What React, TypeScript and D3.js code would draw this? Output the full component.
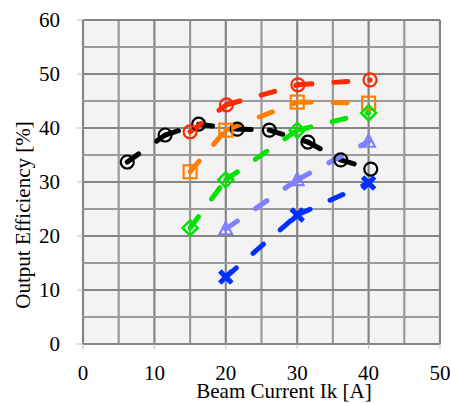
import React from "react";
import * as d3 from "d3";

// series: [beam current A, efficiency %]
const blackPts = [[6.2, 33.7], [11.5, 38.7], [16.2, 40.7], [21.6, 39.8], [26.1, 39.6], [31.5, 37.4], [36.1, 34.1], [40.3, 32.4]];
const redPts = [[15, 39.3], [20.1, 44.3], [30.1, 48], [40.2, 48.9]];
const orangePts = [[15, 31.9], [20, 39.6], [30, 44.8], [40, 44.6]];
const greenPts = [[15, 21.5], [20, 30.4], [30, 39.6], [40, 42.8]];
const lightBluePts = [[20, 21.3], [30, 30.4], [40, 37.5]];
const bluePts = [[20, 12.4], [30, 23.9], [40, 29.8]];

const xTicks = [0, 10, 20, 30, 40, 50];
const yTicks = [0, 10, 20, 30, 40, 50, 60];
const gridSteps = d3.range(0, 55, 5);
const gridStepsY = d3.range(0, 65, 5);

const series = [
  { name: "black", pts: blackPts, color: "#000000", marker: "circle" },
  { name: "red", pts: redPts, color: "#ff2a00", marker: "circle" },
  { name: "orange", pts: orangePts, color: "#ff8000", marker: "square" },
  { name: "green", pts: greenPts, color: "#00e400", marker: "diamond" },
  { name: "lightblue", pts: lightBluePts, color: "#8080ff", marker: "triangle" },
  { name: "blue", pts: bluePts, color: "#0030ff", marker: "x" },
];

const W = 451;
const H = 403;
const left = 83;
const right = 440;
const top = 20;
const bottom = 344;
const font = "'Liberation Serif', 'Times New Roman', serif";

function Marker({ type, cx, cy, color }: { type: string; cx: number; cy: number; color: string }) {
  if (type === "circle")
    return <circle cx={cx} cy={cy} r={6.5} fill="none" stroke={color} strokeWidth={2.2} />;
  if (type === "square")
    return <rect x={cx - 6.5} y={cy - 6.5} width={13} height={13} fill="none" stroke={color} strokeWidth={2.2} />;
  if (type === "diamond") {
    const s = 7.5;
    return (
      <path d={`M${cx},${cy - s}L${cx + s},${cy}L${cx},${cy + s}L${cx - s},${cy}Z`} fill="none" stroke={color} strokeWidth={2.5} />
    );
  }
  if (type === "triangle") {
    const s = 7;
    return (
      <path d={`M${cx},${cy - s}L${cx + s * 0.9},${cy + s * 0.75}L${cx - s * 0.9},${cy + s * 0.75}Z`} fill="none" stroke={color} strokeWidth={2.2} />
    );
  }
  const s = 6;
  return (
    <g stroke={color} strokeWidth={5}>
      <line x1={cx - s} y1={cy - s} x2={cx + s} y2={cy + s} />
      <line x1={cx - s} y1={cy + s} x2={cx + s} y2={cy - s} />
    </g>
  );
}

export default function App() {
  const x = d3.scaleLinear().domain([0, 50]).range([left, right]);
  const y = d3.scaleLinear().domain([0, 60]).range([bottom, top]);
  const line = d3
    .line<number[]>()
    .x((d) => x(d[0]))
    .y((d) => y(d[1]));

  return (
    <svg width={W} height={H} style={{ position: "absolute", left: 0, top: 0, background: "#fff" }}>
      <rect x={left} y={top} width={right - left} height={bottom - top} fill="#f3f3f3" />
      {/* grid */}
      {gridSteps.map((v) => (
        <line key={"gx" + v} x1={x(v)} x2={x(v)} y1={top} y2={bottom}
          stroke={v % 10 === 0 ? "#858585" : "#9a9a9a"} strokeWidth={2.2} />
      ))}
      {gridStepsY.map((v) => (
        <line key={"gy" + v} x1={left} x2={right} y1={y(v)} y2={y(v)}
          stroke={v % 10 === 0 ? "#858585" : "#9a9a9a"} strokeWidth={2.2} />
      ))}
      {/* tick marks */}
      {xTicks.map((v) => (
        <line key={"tx" + v} x1={x(v)} x2={x(v)} y1={bottom} y2={bottom + 5} stroke="#bbb" strokeWidth={1} />
      ))}
      {yTicks.map((v) => (
        <line key={"ty" + v} x1={left - 6} x2={left} y1={y(v)} y2={y(v)} stroke="#bbb" strokeWidth={1} />
      ))}
      {/* lines: dash pattern restarts at each point, like the source */}
      {series.map((s) =>
        s.pts.slice(1).map((p, i) => (
          <path key={"l" + s.name + i} d={line([s.pts[i], p]) || ""} fill="none" stroke={s.color}
            strokeWidth={5} strokeLinecap="round" strokeDasharray="14 22" />
        ))
      )}
      {/* markers */}
      {series.map((s) =>
        s.pts.map((p, i) => (
          <Marker key={s.name + i} type={s.marker} cx={x(p[0])} cy={y(p[1])} color={s.color} />
        ))
      )}
      {/* tick labels */}
      {xTicks.map((v) => (
        <text key={"lx" + v} x={x(v)} y={380} textAnchor="middle" fontFamily={font} fontSize={21} fill="#000">
          {v}
        </text>
      ))}
      {yTicks.map((v) => (
        <text key={"ly" + v} x={60} y={y(v) + 7} textAnchor="end" fontFamily={font} fontSize={21} fill="#000">
          {v}
        </text>
      ))}
      <text x={284} y={398} textAnchor="middle" fontFamily={font} fontSize={21} fill="#000">
        Beam Current Ik [A]
      </text>
      <text transform="translate(30,215) rotate(-90)" textAnchor="middle" fontFamily={font} fontSize={21} fill="#000">
        Output Efficiency [%]
      </text>
    </svg>
  );
}
